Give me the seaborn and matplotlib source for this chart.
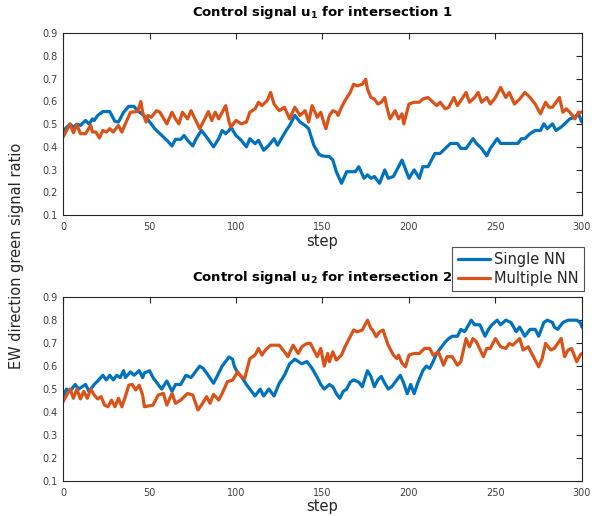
import numpy as np
import pandas as pd
import matplotlib
matplotlib.use("Agg")
import matplotlib.pyplot as plt
import seaborn as sns

# ---------------- data ----------------
# Intersection 1, Single NN
u1_single_step = [0, 4, 6, 8, 10, 13, 15, 17, 18, 20,
                  23, 27, 30, 32, 35, 38, 41, 43, 48, 53,
                  56, 60, 63, 65, 68, 70, 72, 75, 77, 80,
                  83, 87, 90, 92, 94, 96, 97, 100, 103, 106,
                  108, 111, 113, 116, 119, 122, 124, 129, 131, 134,
                  137, 140, 142, 145, 148, 150, 154, 156, 158, 161,
                  164, 169, 171, 174, 176, 178, 180, 183, 186, 188,
                  191, 196, 200, 203, 206, 208, 211, 215, 218, 221,
                  224, 228, 230, 233, 237, 239, 242, 245, 247, 251,
                  253, 263, 265, 267, 270, 273, 276, 278, 280, 283,
                  285, 288, 290, 293, 296, 298, 300]
u1_single_val = [0.47, 0.50, 0.487, 0.50, 0.494, 0.516, 0.50, 0.523, 0.516, 0.538,
                 0.555, 0.555, 0.512, 0.509, 0.552, 0.578, 0.578, 0.559, 0.53, 0.48,
                 0.458, 0.429, 0.404, 0.433, 0.433, 0.45, 0.429, 0.404, 0.436, 0.472,
                 0.443, 0.40, 0.436, 0.472, 0.458, 0.472, 0.487, 0.45, 0.429, 0.40,
                 0.436, 0.414, 0.429, 0.385, 0.407, 0.436, 0.407, 0.472, 0.494, 0.538,
                 0.509, 0.494, 0.48, 0.407, 0.367, 0.36, 0.357, 0.342, 0.291, 0.24,
                 0.291, 0.291, 0.313, 0.262, 0.277, 0.262, 0.27, 0.24, 0.299, 0.262,
                 0.27, 0.342, 0.262, 0.299, 0.262, 0.313, 0.313, 0.371, 0.371, 0.393,
                 0.415, 0.415, 0.393, 0.393, 0.436, 0.415, 0.393, 0.361, 0.393, 0.436,
                 0.415, 0.415, 0.436, 0.436, 0.458, 0.472, 0.472, 0.501, 0.48, 0.501,
                 0.472, 0.487, 0.501, 0.523, 0.53, 0.545, 0.509]

# Intersection 1, Multiple NN
u1_multi_step = [0, 4, 6, 8, 10, 13, 16, 17, 19, 21,
                 23, 25, 27, 29, 32, 34, 36, 39, 43, 45,
                 46, 48, 49, 51, 54, 56, 60, 63, 65, 67,
                 69, 72, 74, 79, 81, 84, 86, 88, 90, 92,
                 94, 96, 97, 100, 103, 106, 108, 111, 113, 115,
                 118, 120, 122, 125, 128, 131, 134, 137, 140, 142,
                 144, 147, 149, 151, 152, 154, 156, 158, 159, 161,
                 163, 166, 168, 170, 173, 175, 176, 178, 180, 182,
                 184, 186, 187, 189, 192, 194, 196, 197, 200, 203,
                 206, 208, 211, 216, 218, 221, 223, 226, 228, 230,
                 233, 235, 238, 240, 242, 245, 247, 250, 253, 256,
                 258, 261, 264, 267, 270, 273, 276, 279, 281, 283,
                 287, 289, 291, 293, 296, 298, 300]
u1_multi_val = [0.443, 0.50, 0.462, 0.497, 0.458, 0.458, 0.494, 0.465, 0.465, 0.439,
                0.472, 0.465, 0.48, 0.465, 0.494, 0.465, 0.501, 0.552, 0.555, 0.599,
                0.552, 0.509, 0.538, 0.53, 0.559, 0.552, 0.501, 0.552, 0.523, 0.501,
                0.552, 0.523, 0.559, 0.48, 0.509, 0.555, 0.516, 0.552, 0.523, 0.552,
                0.581, 0.509, 0.487, 0.516, 0.501, 0.509, 0.552, 0.567, 0.596, 0.581,
                0.603, 0.639, 0.588, 0.559, 0.574, 0.523, 0.574, 0.538, 0.559, 0.509,
                0.581, 0.53, 0.552, 0.50, 0.48, 0.538, 0.559, 0.552, 0.538, 0.574,
                0.603, 0.639, 0.675, 0.668, 0.675, 0.697, 0.654, 0.617, 0.61, 0.588,
                0.596, 0.617, 0.581, 0.523, 0.559, 0.523, 0.545, 0.501, 0.588, 0.596,
                0.596, 0.61, 0.617, 0.581, 0.596, 0.567, 0.574, 0.617, 0.581, 0.603,
                0.639, 0.596, 0.617, 0.639, 0.596, 0.617, 0.588, 0.617, 0.661, 0.617,
                0.639, 0.588, 0.61, 0.639, 0.617, 0.588, 0.545, 0.596, 0.574, 0.574,
                0.617, 0.552, 0.567, 0.552, 0.523, 0.552, 0.552]

# Intersection 2, Single NN
u2_single_step = [0, 2, 4, 7, 9, 11, 13, 15, 17, 18,
                  20, 23, 25, 27, 29, 31, 33, 35, 36, 39,
                  41, 44, 46, 47, 50, 52, 55, 57, 60, 63,
                  65, 68, 71, 74, 79, 81, 83, 87, 89, 92,
                  94, 96, 98, 99, 101, 103, 106, 109, 111, 114,
                  116, 119, 122, 125, 128, 131, 134, 136, 138, 141,
                  144, 147, 149, 151, 154, 156, 158, 160, 162, 164,
                  166, 168, 171, 173, 176, 178, 180, 182, 184, 186,
                  188, 190, 195, 197, 199, 201, 203, 205, 208, 210,
                  212, 214, 216, 221, 223, 225, 228, 230, 232, 233,
                  236, 238, 241, 244, 246, 248, 251, 253, 256, 259,
                  262, 264, 267, 270, 273, 275, 278, 280, 283, 284,
                  286, 289, 292, 297, 299, 300]
u2_single_val = [0.47, 0.50, 0.49, 0.52, 0.50, 0.51, 0.52, 0.49, 0.51, 0.52,
                 0.535, 0.56, 0.54, 0.56, 0.54, 0.56, 0.55, 0.58, 0.55, 0.575,
                 0.56, 0.58, 0.55, 0.57, 0.58, 0.55, 0.52, 0.50, 0.535, 0.49,
                 0.52, 0.52, 0.56, 0.55, 0.60, 0.59, 0.57, 0.525, 0.555, 0.60,
                 0.62, 0.64, 0.63, 0.60, 0.57, 0.555, 0.52, 0.49, 0.47, 0.50,
                 0.47, 0.50, 0.47, 0.525, 0.56, 0.61, 0.63, 0.62, 0.61, 0.62,
                 0.59, 0.55, 0.52, 0.50, 0.52, 0.51, 0.48, 0.46, 0.49, 0.50,
                 0.53, 0.54, 0.53, 0.51, 0.58, 0.555, 0.51, 0.54, 0.555, 0.525,
                 0.50, 0.51, 0.56, 0.525, 0.48, 0.52, 0.48, 0.525, 0.58, 0.60,
                 0.59, 0.62, 0.655, 0.705, 0.72, 0.73, 0.73, 0.76, 0.75, 0.76,
                 0.80, 0.78, 0.78, 0.73, 0.76, 0.78, 0.80, 0.78, 0.80, 0.79,
                 0.75, 0.77, 0.73, 0.76, 0.76, 0.73, 0.79, 0.80, 0.79, 0.77,
                 0.76, 0.79, 0.80, 0.80, 0.79, 0.77]

# Intersection 2, Multiple NN
u2_multi_step = [0, 4, 6, 8, 10, 12, 14, 16, 18, 20,
                 22, 24, 26, 28, 30, 32, 34, 36, 38, 40,
                 42, 44, 46, 47, 52, 55, 58, 60, 63, 65,
                 68, 72, 75, 78, 80, 83, 85, 87, 90, 92,
                 95, 98, 101, 103, 105, 108, 111, 113, 115, 117,
                 120, 125, 128, 130, 133, 136, 138, 141, 143, 145,
                 147, 149, 151, 153, 154, 156, 158, 161, 163, 168,
                 170, 173, 176, 178, 179, 181, 183, 185, 188, 191,
                 193, 194, 196, 198, 200, 203, 206, 209, 212, 214,
                 217, 220, 222, 225, 228, 230, 233, 235, 237, 239,
                 243, 245, 247, 250, 253, 256, 258, 260, 264, 266,
                 269, 275, 277, 279, 282, 284, 288, 290, 292, 294,
                 297, 299, 300]
u2_multi_val = [0.445, 0.50, 0.46, 0.50, 0.457, 0.49, 0.46, 0.50, 0.474, 0.457,
                0.467, 0.43, 0.423, 0.452, 0.423, 0.46, 0.423, 0.467, 0.517, 0.52,
                0.496, 0.517, 0.474, 0.423, 0.43, 0.474, 0.481, 0.43, 0.481, 0.438,
                0.452, 0.481, 0.474, 0.409, 0.43, 0.467, 0.438, 0.477, 0.452, 0.481,
                0.532, 0.539, 0.575, 0.554, 0.546, 0.633, 0.648, 0.677, 0.648, 0.67,
                0.691, 0.691, 0.662, 0.641, 0.691, 0.655, 0.684, 0.699, 0.699, 0.67,
                0.641, 0.677, 0.60, 0.655, 0.619, 0.662, 0.626, 0.648, 0.684, 0.757,
                0.749, 0.757, 0.80, 0.764, 0.757, 0.728, 0.749, 0.757, 0.691, 0.648,
                0.633, 0.648, 0.612, 0.597, 0.648, 0.655, 0.655, 0.677, 0.677, 0.648,
                0.662, 0.604, 0.641, 0.641, 0.604, 0.619, 0.72, 0.684, 0.72, 0.706,
                0.641, 0.677, 0.677, 0.72, 0.684, 0.677, 0.699, 0.691, 0.72, 0.67,
                0.684, 0.597, 0.633, 0.699, 0.67, 0.677, 0.72, 0.641, 0.67, 0.677,
                0.619, 0.648, 0.655]

series_names = ["Single NN", "Multiple NN"]
titles = [r"Control signal $\mathbf{u_1}$ for intersection 1",
          r"Control signal $\mathbf{u_2}$ for intersection 2"]
x_ticks = [0, 50, 100, 150, 200, 250, 300]
y_ticks = [0.1, 0.2, 0.3, 0.4, 0.5, 0.6, 0.7, 0.8, 0.9]
x_label = "step"
y_label = "EW direction green signal ratio"

# ---------------- style ----------------
sns.set_style("white")
plt.rcParams["font.family"] = ["DejaVu Sans"]
plt.rcParams["mathtext.fontset"] = "dejavusans"
palette = {"Single NN": "#0072BD", "Multiple NN": "#D95319"}
axis_color = "#262626"
tick_label_color = "#404040"


def make_df(single_s, single_v, multi_s, multi_v):
    return pd.concat([
        pd.DataFrame({"step": single_s, "value": single_v, "method": series_names[0]}),
        pd.DataFrame({"step": multi_s, "value": multi_v, "method": series_names[1]}),
    ], ignore_index=True)


dfs = [make_df(u1_single_step, u1_single_val, u1_multi_step, u1_multi_val),
       make_df(u2_single_step, u2_single_val, u2_multi_step, u2_multi_val)]

fig = plt.figure(figsize=(5.95, 5.16), dpi=100)
ax1 = fig.add_axes([0.106, 0.583, 0.872, 0.353])
ax2 = fig.add_axes([0.106, 0.068, 0.872, 0.356])

for ax, df, title in zip([ax1, ax2], dfs, titles):
    sns.lineplot(data=df, x="step", y="value", hue="method", palette=palette,
                 hue_order=series_names, estimator=None, sort=False,
                 linewidth=2.3, ax=ax, legend=False)
    ax.set_xlim(0, 300)
    ax.set_ylim(0.1, 0.9)
    ax.set_xticks(x_ticks)
    ax.set_yticks(y_ticks)
    ax.set_yticklabels([f"{v:.1f}" for v in y_ticks])
    ax.tick_params(direction="in", length=4, width=0.8, colors=axis_color,
                   labelcolor=tick_label_color, labelsize=7, top=True, right=True)
    ax.tick_params(axis="x", pad=5)
    ax.tick_params(axis="y", pad=4)
    for sp in ax.spines.values():
        sp.set_visible(True)
        sp.set_color(axis_color)
        sp.set_linewidth(0.8)
    ax.set_title(title, fontsize=9.5, fontweight="bold", pad=12, color="black")
    ax.set_xlabel(x_label, fontsize=10.5, labelpad=1, color=axis_color)
    ax.set_ylabel("")

fig.text(0.028, 0.505, y_label, rotation=90, va="center", ha="center",
         fontsize=10.5, color=axis_color)

handles = [plt.Line2D([], [], color=palette[n], lw=2.3) for n in series_names]
leg = fig.legend(handles, series_names, loc="upper right",
                 bbox_to_anchor=(0.981, 0.521), fontsize=10.5, frameon=True,
                 fancybox=False, edgecolor=axis_color, borderpad=0.35,
                 handlelength=2.2, handletextpad=0.3, labelspacing=0.25,
                 borderaxespad=0)
leg.get_frame().set_linewidth(0.8)

fig.savefig("out.png", dpi=100)
